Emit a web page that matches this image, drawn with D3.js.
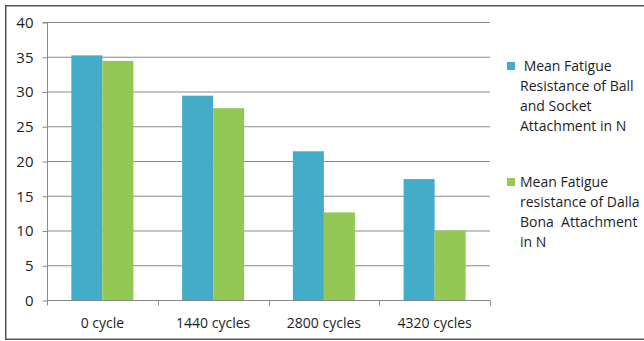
<!DOCTYPE html>
<html>
<head>
<meta charset="utf-8">
<script src="https://cdn.jsdelivr.net/npm/d3@7"></script>
<style>
  html, body { margin: 0; padding: 0; background: #fff; }
  svg { display: block; }
  text { font-family: "Open Sans", "Liberation Sans", sans-serif; fill: #1e1e1e; }
</style>
</head>
<body>
<svg id="chart" width="644" height="341"></svg>
<script>
// Fatigue resistance (N) after repeated insertion/removal cycles
const categories = ["0 cycle", "1440 cycles", "2800 cycles", "4320 cycles"];
const seriesNames = ["ball", "dalla"];
const ballSocket = [35.2, 29.4, 21.4, 17.4];
const dallaBona = [34.4, 27.6, 12.6, 10.0];
const yTicks = [0, 5, 10, 15, 20, 25, 30, 35, 40];
const legendLines = [
  [" Mean Fatigue", "Resistance of Ball", "and Socket", "Attachment in N"],
  ["Mean Fatigue", "resistance of Dalla", "Bona  Attachment", "in N"]
];
const colors = ["#43acc8", "#92c853"];

const svg = d3.select("#chart");

// outer frame
svg.append("rect")
  .attr("x", 5.75).attr("y", 5.75)
  .attr("width", 660).attr("height", 333.5)
  .attr("fill", "none").attr("stroke", "#555").attr("stroke-width", 1.5);

const plotLeft = 47, plotRight = 490, plotTop = 22, plotBottom = 300;

const x0 = d3.scaleBand().domain(categories).range([plotLeft, plotRight]).padding(0);
const x1 = d3.scaleBand().domain(seriesNames).range([0, x0.bandwidth()])
  .paddingInner(0).paddingOuter(0.785);
const y = d3.scaleLinear().domain([0, 40]).range([plotBottom, plotTop]);

// horizontal gridlines
svg.append("g")
  .selectAll("line").data(yTicks.filter(d => d > 0)).join("line")
  .attr("x1", plotLeft).attr("x2", plotRight)
  .attr("y1", d => y(d) + 0.5).attr("y2", d => y(d) + 0.5)
  .attr("stroke", "#8a8a8a").attr("stroke-width", 1);

// bars
const rows = categories.map((c, i) => ({ c, vals: [ballSocket[i], dallaBona[i]] }));
const groups = svg.append("g").selectAll("g").data(rows).join("g")
  .attr("transform", d => `translate(${x0(d.c)},0)`);
groups.selectAll("rect")
  .data(d => d.vals.map((v, k) => ({ k, v })))
  .join("rect")
  .attr("x", d => x1(seriesNames[d.k]))
  .attr("width", x1.bandwidth())
  .attr("y", d => y(d.v))
  .attr("height", d => y(0) - y(d.v))
  .attr("fill", d => colors[d.k]);

// y axis
const yAxis = svg.append("g")
  .attr("transform", `translate(${plotLeft + 0.5},0.5)`)
  .call(d3.axisLeft(y).tickValues(yTicks).tickSize(5).tickPadding(9));
yAxis.select(".domain").attr("stroke", "#8a8a8a").attr("d", `M-5,${plotTop}H0V${plotBottom}`);
yAxis.selectAll(".tick line").attr("stroke", "#8a8a8a");
yAxis.selectAll(".tick text")
  .attr("font-size", 15).attr("fill", "#1e1e1e")
  .style("font-family", '"Open Sans", sans-serif');

// x axis with tick marks on category boundaries
const xAxisG = svg.append("g").attr("transform", `translate(0,${plotBottom + 0.5})`);
xAxisG.append("line")
  .attr("x1", plotLeft).attr("x2", plotRight).attr("y1", 0).attr("y2", 0)
  .attr("stroke", "#8a8a8a");
const bounds = categories.map(c => x0(c)).concat([x0(categories[categories.length - 1]) + x0.bandwidth()]);
xAxisG.selectAll("line.tk").data(bounds).join("line").attr("class", "tk")
  .attr("x1", d => Math.round(d) + 0.5).attr("x2", d => Math.round(d) + 0.5)
  .attr("y1", 0).attr("y2", 5).attr("stroke", "#8a8a8a");
xAxisG.selectAll("text").data(categories).join("text")
  .attr("x", d => x0(d) + x0.bandwidth() / 2)
  .attr("y", 27)
  .attr("text-anchor", "middle")
  .attr("font-size", 14)
  .text(d => d);

// legend
const legendTop = [62, 178];
legendLines.forEach((lines, k) => {
  const g = svg.append("g");
  g.append("rect")
    .attr("x", 507).attr("y", legendTop[k])
    .attr("width", 8).attr("height", 8)
    .attr("fill", colors[k]);
  g.selectAll("text").data(lines).join("text")
    .attr("x", 520)
    .attr("y", (d, i) => legendTop[k] + 9 + i * 20)
    .attr("font-size", 14)
    .attr("xml:space", "preserve")
    .style("white-space", "pre")
    .text(d => d);
});
</script>
</body>
</html>
